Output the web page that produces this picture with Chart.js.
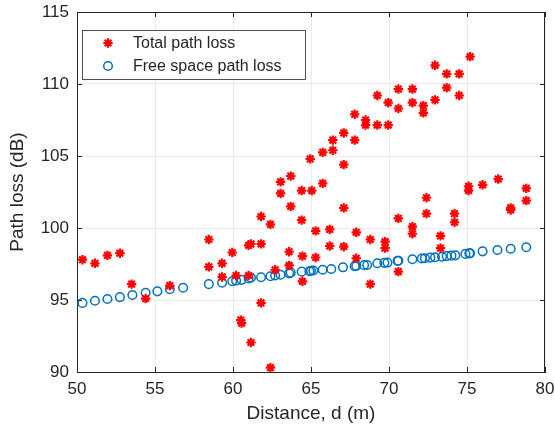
<!DOCTYPE html>
<html>
<head>
<meta charset="utf-8">
<script src="https://cdn.jsdelivr.net/npm/chart.js@4/dist/chart.umd.min.js"></script>
<style>
html,body{margin:0;padding:0;background:#fff;}
#wrap{width:555px;height:439px;}
</style>
</head>
<body>
<div id="wrap"><canvas id="c" width="555" height="439"></canvas></div>
<script>
const seriesNames = ["Total path loss", "Free space path loss"];
const xTicks = [50, 55, 60, 65, 70, 75, 80];
const yTicks = [90, 95, 100, 105, 110, 115];

const totalD = [50.35,51.15,51.95,52.75,53.5,54.4,55.95,58.45,58.45,59.3,59.3,59.95,60.2,60.5,60.55,61.0,61.15,61.0,61.15,61.8,61.8,61.8,62.4,62.4,62.7,63.05,63.05,63.7,63.7,63.6,63.6,64.4,64.4,64.45,64.45,64.95,65.05,65.3,65.3,65.75,65.75,66.2,66.2,66.4,66.4,67.1,67.1,67.1,67.1,67.8,67.8,67.9,67.9,68.5,68.5,68.8,68.8,69.25,69.25,69.75,69.75,69.95,69.95,70.6,70.6,70.6,70.6,71.5,71.5,71.5,71.5,72.2,72.2,72.4,72.4,72.95,72.95,73.3,73.3,73.7,73.7,74.2,74.2,74.5,74.5,75.2,75.1,75.1,76.0,77.0,77.8,77.8,78.8,78.8];
const totalL = [97.8,97.55,98.1,98.25,96.1,95.1,96.0,99.2,97.3,97.55,96.6,98.3,96.7,93.6,93.4,98.8,98.9,96.7,92.05,98.9,100.8,94.8,100.25,90.3,97.1,103.2,102.4,103.6,101.5,98.35,97.4,102.6,100.55,98.05,96.3,104.8,102.6,99.8,97.95,105.25,103.1,99.9,98.75,106.1,105.4,104.4,106.6,101.4,98.7,107.9,106.1,99.7,97.9,107.5,107.15,99.2,96.1,109.2,107.15,99.05,98.6,108.7,107.15,109.65,108.3,100.67,96.97,109.65,108.7,100.1,99.6,108.5,108.0,102.1,101.0,111.3,108.9,99.45,98.6,110.7,109.75,101.0,100.4,110.7,109.2,111.9,102.9,102.6,103.0,103.4,101.4,101.25,102.75,101.9];

const freeD = [50.35,51.15,51.95,52.75,53.55,54.4,55.15,55.95,56.8,58.45,59.3,59.95,60.2,60.55,61.0,61.15,61.8,62.4,62.7,63.05,63.6,63.7,64.4,64.9,65.15,65.75,66.3,67.05,67.9,68.6,69.25,69.9,70.6,71.5,72.3,72.95,73.7,74.25,75.15,76.0,76.95,77.8,78.8,65.0,67.8,68.4,69.7,70.55,72.1,72.65,73.4,74.0,74.9,75.2];
const freeL = [94.8,94.95,95.07,95.2,95.35,95.5,95.6,95.75,95.85,96.1,96.2,96.3,96.35,96.4,96.5,96.55,96.58,96.65,96.7,96.75,96.85,96.9,96.97,97.0,97.05,97.1,97.15,97.27,97.36,97.43,97.55,97.6,97.73,97.83,97.9,97.97,98.05,98.1,98.24,98.38,98.47,98.56,98.66,97.03,97.35,97.42,97.58,97.72,97.88,97.94,98.0,98.08,98.2,98.25];

const TXT = '#262626';
const FONT = "'Liberation Sans', Arial, sans-serif";

function pts(xs, ys){ return xs.map((x,i)=>({x:x,y:ys[i]})); }

const boxPlugin = {
  id: 'boxLegend',
  afterDatasetsDraw(chart){
    const ctx = chart.ctx, ca = chart.chartArea;
    const xs = chart.scales.x, ys = chart.scales.y;
    ctx.save();
    ctx.strokeStyle = '#262626';
    ctx.lineWidth = 1;
    ctx.beginPath();
    xTicks.forEach(v => {
      const p = Math.round(xs.getPixelForValue(v)) + 0.5;
      ctx.moveTo(p, ca.bottom); ctx.lineTo(p, ca.bottom - 5);
      ctx.moveTo(p, ca.top); ctx.lineTo(p, ca.top + 5);
    });
    yTicks.forEach(v => {
      const p = Math.round(ys.getPixelForValue(v)) + 0.5;
      ctx.moveTo(ca.left, p); ctx.lineTo(ca.left + 5, p);
      ctx.moveTo(ca.right, p); ctx.lineTo(ca.right - 5, p);
    });
    ctx.stroke();
    ctx.beginPath();
    ctx.moveTo(ca.left, ca.top + 0.5); ctx.lineTo(ca.right, ca.top + 0.5);
    ctx.moveTo(ca.right - 0.5, ca.top); ctx.lineTo(ca.right - 0.5, ca.bottom);
    ctx.stroke();
    ctx.restore();
  },
  afterDraw(chart){
    const ctx = chart.ctx;
    const ca = chart.chartArea;
    const x0 = ca.left + 5, y0 = ca.top + 18, w = 223, h = 49;
    ctx.save();
    ctx.fillStyle = '#fff';
    ctx.fillRect(x0, y0, w, h);
    ctx.strokeStyle = '#262626';
    ctx.lineWidth = 0.8;
    ctx.strokeRect(x0+0.5, y0+0.5, w, h);
    ctx.font = '16px ' + FONT;
    ctx.textBaseline = 'middle';
    const rows = [y0 + 13, y0 + 36];
    chart.data.datasets.forEach((ds, i) => {
      const mx = x0 + 26, my = rows[i];
      ctx.strokeStyle = ds.borderColor;
      ctx.fillStyle = ds.backgroundColor;
      ctx.lineWidth = ds.borderWidth;
      Chart.helpers.drawPoint(ctx, {pointStyle: ds.pointStyle, radius: ds.pointRadius, borderWidth: ds.borderWidth, rotation: 0}, mx, my);
      ctx.fillStyle = TXT;
      ctx.fillText(ds.label, x0 + 51, my + 1);
    });
    ctx.restore();
  }
};

new Chart(document.getElementById('c'), {
  type: 'scatter',
  data: {
    datasets: [
      { label: seriesNames[0], data: pts(totalD, totalL), pointStyle: 'star', pointRadius: 4.7,
        borderColor: '#ff0000', backgroundColor: '#ff0000', borderWidth: 2.2, pointHoverRadius: 4.7 },
      { label: seriesNames[1], data: pts(freeD, freeL), pointStyle: 'circle', pointRadius: 4.3,
        borderColor: '#0072BD', backgroundColor: 'rgba(0,0,0,0)', borderWidth: 1.5, pointHoverRadius: 4.3 }
    ]
  },
  options: {
    responsive: false,
    animation: false,
    devicePixelRatio: 1,
    layout: { padding: { left: 6, right: 10, top: 12, bottom: 0 } },
    plugins: { legend: { display: false }, tooltip: { enabled: false } },
    scales: {
      x: {
        type: 'linear', min: 50, max: 80,
        afterBuildTicks: s => { s.ticks = xTicks.map(v => ({value: v})); },
        afterFit: s => { s.height = 67; s.paddingLeft = 0; s.paddingRight = 0; },
        border: { color: '#262626', width: 1 },
        grid: { color: '#ebebeb', lineWidth: 1, drawTicks: false },
        ticks: { color: TXT, font: { family: FONT, size: 17 }, padding: 7, maxRotation: 0 },
        title: { display: true, text: 'Distance, d (m)', color: TXT, font: { family: FONT, size: 19 }, padding: { top: 4, bottom: 14 } }
      },
      y: {
        type: 'linear', min: 90, max: 115,
        afterBuildTicks: s => { s.ticks = yTicks.map(v => ({value: v})); },
        afterFit: s => { s.width = 71; s.paddingTop = 0; s.paddingBottom = 0; },
        border: { color: '#262626', width: 1 },
        grid: { color: '#ebebeb', lineWidth: 1, drawTicks: false },
        ticks: { color: TXT, font: { family: FONT, size: 17 }, padding: 8 },
        title: { display: true, text: 'Path loss (dB)', color: TXT, font: { family: FONT, size: 19 }, padding: { top: 0, bottom: 4 } }
      }
    }
  },
  plugins: [boxPlugin]
});
</script>
</body>
</html>
